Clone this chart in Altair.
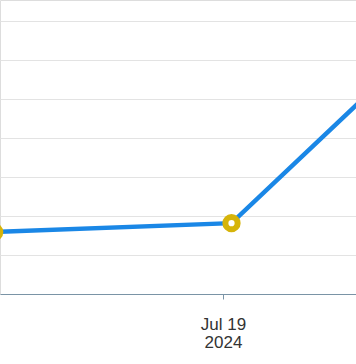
import altair as alt
import pandas as pd

# Data
dates = ["2024-07-12T06:30:00Z", "2024-07-19T06:00:00Z", "2024-07-26T06:00:00Z"]
values = [15.9, 18.2, 76.0]

df = pd.DataFrame({"date": dates, "value": values})

x_enc = alt.X(
    "date:T",
    scale=alt.Scale(
        type="utc",
        domain=[
            alt.DateTime(year=2024, month=7, date=12, hours=10, minutes=35, utc=True),
            alt.DateTime(year=2024, month=7, date=22, hours=21, minutes=53, utc=True),
        ],
    ),
    axis=alt.Axis(
        title=None,
        values=[alt.DateTime(year=2024, month=7, date=19, utc=True)],
        labelExpr="[utcFormat(datum.value, '%b %d'), utcFormat(datum.value, '%Y')]",
        labelFontSize=17,
        labelFont="Liberation Sans",
        labelColor="#333333",
        labelLineHeight=18,
        labelPadding=17,
        tickSize=5,
        tickColor="#7a94a6",
        domainColor="#7a94a6",
        domainWidth=1,
        grid=False,
    ),
)

y_enc = alt.Y(
    "value:Q",
    scale=alt.Scale(domain=[0, 75.5], nice=False, zero=True),
    axis=alt.Axis(
        title=None,
        values=[10, 20, 30, 40, 50, 60, 70],
        labels=False,
        ticks=False,
        domain=False,
        grid=True,
        gridColor="#e3e3e3",
        gridWidth=1,
    ),
)

base = alt.Chart(df).encode(x=x_enc, y=y_enc)

line = base.mark_line(color="#1a87e6", strokeWidth=4.5, clip=True)
points = base.mark_point(
    shape="circle", filled=False, fill="white", fillOpacity=1, stroke="#d6b40a",
    strokeWidth=6, size=150, opacity=1, clip=True
)

chart = (
    alt.layer(line, points)
    .properties(
        width=356,
        height=294,
        autosize=alt.AutoSizeParams(type="none"),
        padding={"left": 0, "right": 0, "top": 0, "bottom": 70},
    )
    .configure_view(strokeWidth=0, strokeOpacity=0, stroke="transparent")
    .configure_axisX(grid=False)
    .configure(background="white")
)

chart.save("out.html", embed_options={"renderer": "svg", "actions": False})
